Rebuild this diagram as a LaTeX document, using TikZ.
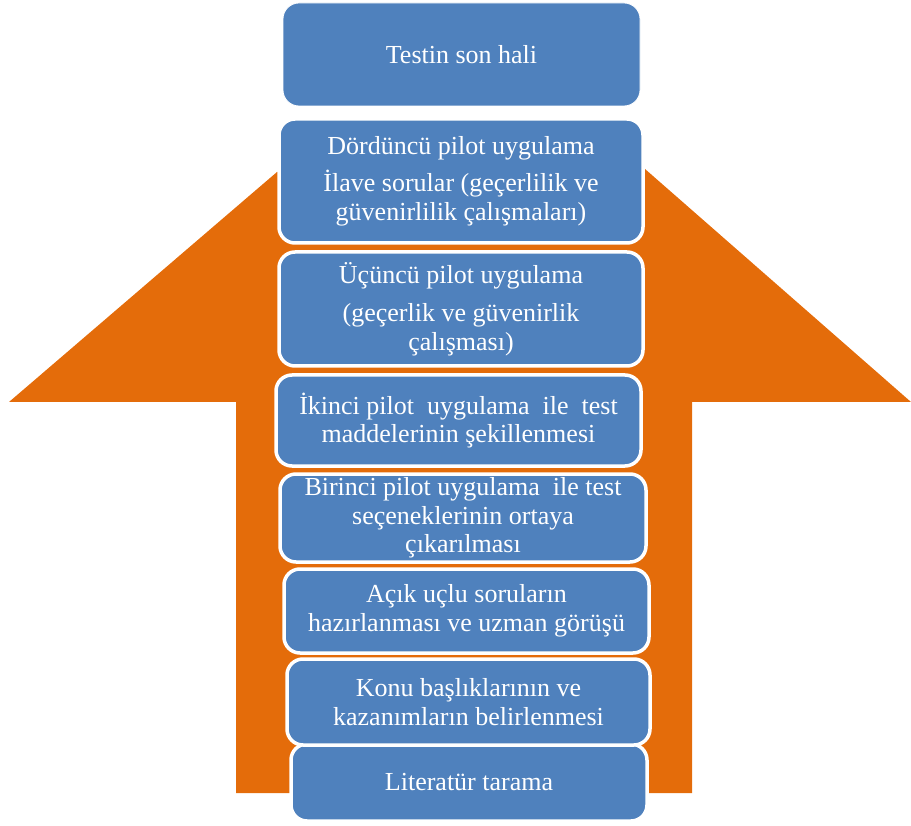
\documentclass[tikz,border=0pt]{standalone}
\usepackage{fontspec}
\setmainfont{Liberation Serif}
\definecolor{stageblue}{HTML}{4F81BD}
\definecolor{arroworange}{HTML}{E46C0A}

\begin{document}
\begin{tikzpicture}[
    x=1pt, y=-1pt,
    stage/.style={draw=white, line width=3.5pt, rectangle, rounded corners=16pt, fill=stageblue, text=white, align=center, inner sep=0pt, font=\fontsize{26}{28.5}\selectfont},
    topstage/.style={stage, line width=0.8pt}
]
    \useasboundingbox (0,0) rectangle (911,826);

    % Orange up arrow behind the stages
    \fill[arroworange] (236,793) -- (236,402) -- (9,402) -- (277,172) -- (645,169) -- (911,402) -- (692,402) -- (692,793) -- cycle;

    % Stages, from the bottom up
    \node[stage, minimum width=356pt, minimum height=77pt] (lit) at (469,782.5) {Literatür tarama};
    \node[stage, minimum width=363pt, minimum height=86pt] (konu) at (468.5,702) {Konu başlıklarının ve\\kazanımların belirlenmesi};
    \node[stage, minimum width=365pt, minimum height=84pt] (acik) at (466.5,611) {Açık uçlu soruların\\hazırlanması ve uzman görüşü};
    \node[stage, minimum width=366pt, minimum height=88pt] (pilot1) at (463,518) {Birinci pilot uygulama\ \ ile test\\seçeneklerinin ortaya\\çıkarılması};
    \node[stage, minimum width=365pt, minimum height=91pt] (pilot2) at (458.5,420.5) {İkinci pilot\ \ uygulama\ \ ile\ \ test\\maddelerinin şekillenmesi};
    \node[stage, minimum width=364pt, minimum height=114pt] (pilot3) at (461,309) {Üçüncü pilot uygulama\\[10pt](geçerlik ve güvenirlik\\çalışması)};
    \node[stage, minimum width=364pt, minimum height=124pt] (pilot4) at (461,181) {Dördüncü pilot uygulama\\[9pt]İlave sorular (geçerlilik ve\\güvenirlilik çalışmaları)};
    \node[topstage, minimum width=357pt, minimum height=103pt] (son) at (461.5,54.5) {Testin son hali};

\end{tikzpicture}
\end{document}
